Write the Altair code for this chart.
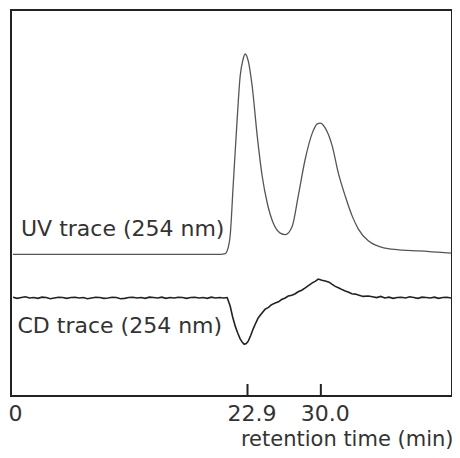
import altair as alt
import pandas as pd

# UV trace (254 nm): retention time (min) and signal (arbitrary units)
uv_time = [0.19, 5.0, 10.0, 15.0, 20.3, 20.74, 20.93, 21.22, 21.51, 21.90, 22.19, 22.45,
           22.67, 22.97, 23.35, 23.84, 24.32, 24.81, 25.39, 26.07, 26.55, 27.23, 27.81,
           28.49, 29.17, 29.65, 29.94, 30.43, 31.10, 31.69, 32.36, 33.04, 33.62, 34.59,
           36.24, 37.89, 39.44, 42.64]
uv_signal = [36.7, 36.7, 36.7, 36.7, 36.7, 36.9, 37.6, 41.5, 54.4, 71.8, 82.9, 87.0,
             88.6, 86.8, 80.3, 67.4, 57.0, 50.0, 44.8, 42.2, 41.8, 44.0, 51.8,
             61.4, 68.1, 70.5, 70.7, 69.4, 64.8, 57.8, 51.8, 46.6, 43.3, 40.2,
             38.3, 37.8, 37.6, 37.0]

# CD trace (254 nm)
cd_time = [0.2, 0.6, 1.0, 1.4, 1.8, 2.2, 2.6, 3.0, 3.4, 3.8, 4.2, 4.6, 5.0, 5.4, 5.8,
           6.2, 6.6, 7.0, 7.4, 7.8, 8.2, 8.6, 9.0, 9.4, 9.8, 10.2, 10.6, 11.0, 11.4,
           11.8, 12.2, 12.6, 13.0, 13.4, 13.8, 14.2, 14.6, 15.0, 15.4, 15.8, 16.2, 16.6,
           17.0, 17.4, 17.8, 18.2, 18.6, 19.0, 19.4, 19.8, 20.2, 20.6,
           20.93, 21.22, 21.45, 21.71, 21.95, 22.19, 22.4, 22.58, 22.78, 22.97, 23.2,
           23.45, 23.7, 23.93, 24.25, 24.61, 24.9, 25.2, 25.58, 25.9, 26.2, 26.55,
           26.85, 27.2, 27.52, 27.8, 28.15, 28.49, 28.8, 29.17, 29.45, 29.75, 30.1,
           30.43, 30.8, 31.1, 31.4, 31.8, 32.1, 32.36, 32.7, 33.0, 33.33, 33.7, 34.1,
           34.59,
           35.0, 35.4, 35.8, 36.2, 36.6, 37.0, 37.4, 37.8, 38.2, 38.6, 39.0, 39.4,
           39.8, 40.2, 40.6, 41.0, 41.4, 41.8, 42.2, 42.6]
cd_signal = [25.6, 25.3, 25.5, 25.7, 25.4, 25.5, 25.3, 25.6, 25.5, 25.2, 25.4, 25.6,
             25.5, 25.3, 25.5, 25.6, 25.4, 25.5, 25.2, 25.4, 25.6, 25.5, 25.3, 25.4,
             25.6, 25.5, 25.2, 25.3, 25.5, 25.6, 25.4, 25.5, 25.3, 25.6, 25.5, 25.4,
             25.6, 25.3, 25.5, 25.4, 25.6, 25.5, 25.3, 25.5, 25.6, 25.4, 25.5, 25.3,
             25.6, 25.4, 25.5, 25.4,
             25.5, 23.3, 20.6, 18.1, 16.3, 14.8, 13.9, 13.4, 13.6, 14.2, 15.6,
             17.4, 18.9, 20.2, 21.3, 22.5, 22.9, 23.6, 24.1, 24.4, 25.0, 25.4,
             25.9, 26.1, 26.5, 27.0, 27.4, 28.0, 28.6, 29.3, 29.7, 30.3, 30.0,
             29.8, 29.5, 28.9, 28.4, 27.9, 27.5, 27.2, 26.9, 26.5, 26.4, 26.1, 25.8,
             25.9,
             25.7, 25.5, 25.8, 25.4, 25.6, 25.3, 25.5, 25.6, 25.4, 25.7, 25.5, 25.3,
             25.6, 25.5, 25.4, 25.6, 25.3, 25.5, 25.6, 25.4]

tick_times = [22.9, 30.0]
axis_values = [0, 22.9, 30.0]
trace_labels = ["UV trace (254 nm)", "CD trace (254 nm)"]

FONT = "DejaVu Sans"
TEXT = "#333333"
W, H = 441, 386

uv = pd.DataFrame({"t": uv_time, "s": uv_signal})
cd = pd.DataFrame({"t": cd_time, "s": cd_signal})
ticks = pd.DataFrame({"t": tick_times})

xscale = alt.Scale(domain=[0, 42.7], nice=False, zero=False)
yscale = alt.Scale(domain=[0, 100], nice=False, zero=False)

xaxis = alt.Axis(
    values=axis_values, format=".1f",
    labelExpr="datum.value == 0 ? '0' : datum.label",
    ticks=False, tickSize=0, domain=False, grid=False,
    labelOffset=4, labelPadding=24, labelFlush=False, labelBaseline="alphabetic",
    labelFont=FONT, labelFontSize=22, labelColor=TEXT,
    title="retention time (min)", titleFont=FONT, titleFontSize=21,
    titleFontWeight="normal", titleColor=TEXT,
    titleAnchor="end", titleAlign="right", titleBaseline="alphabetic",
    titleX=442, titleY=49,
)

uv_line = alt.Chart(uv).mark_line(color="#555555", strokeWidth=1.3, interpolate="monotone").encode(
    x=alt.X("t:Q", scale=xscale, axis=xaxis),
    y=alt.Y("s:Q", scale=yscale, axis=None),
)
cd_line = alt.Chart(cd).mark_line(color="#222222", strokeWidth=1.6, interpolate="linear").encode(
    x=alt.X("t:Q", scale=xscale),
    y=alt.Y("s:Q", scale=yscale),
)
tick_rules = alt.Chart(ticks).mark_rule(color="#222222", strokeWidth=2).encode(
    x=alt.X("t:Q", scale=xscale),
    y=alt.value(H - 12),
    y2=alt.value(H),
)
uv_text = alt.Chart(pd.DataFrame({"label": [trace_labels[0]]})).mark_text(
    font=FONT, fontSize=22, color=TEXT, align="left", baseline="alphabetic"
).encode(text="label:N", x=alt.value(10), y=alt.value(225.5))
cd_text = alt.Chart(pd.DataFrame({"label": [trace_labels[1]]})).mark_text(
    font=FONT, fontSize=22, color=TEXT, align="left", baseline="alphabetic"
).encode(text="label:N", x=alt.value(6.5), y=alt.value(323))

chart = alt.layer(uv_line, cd_line, tick_rules, uv_text, cd_text).properties(
    width=W, height=H, background="white",
    autosize=alt.AutoSizeParams(type="none"),
    padding={"left": 3, "top": 2, "right": 0, "bottom": 54},
).configure_view(stroke="#222222", strokeWidth=2)

chart.save("out.html", embed_options={"renderer": "svg", "actions": False})
